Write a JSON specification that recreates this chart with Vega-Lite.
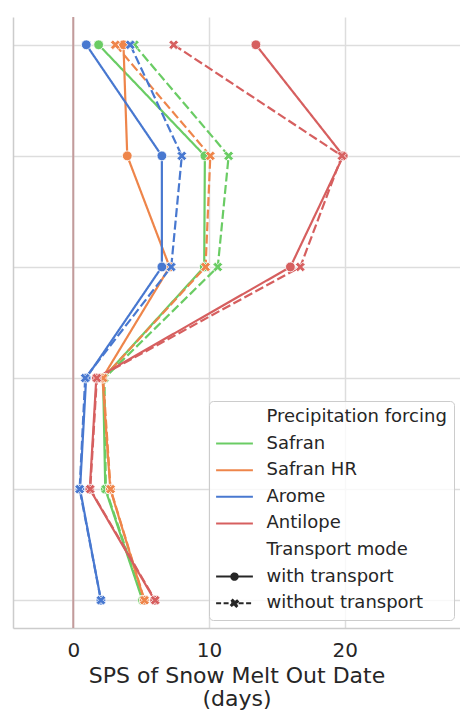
{
  "$schema": "https://vega.github.io/schema/vega-lite/v6.json",
  "width": 447,
  "height": 611,
  "autosize": {"type": "none"},
  "padding": {"left": 13, "top": 17, "right": 0, "bottom": 84},
  "background": "white",
  "title": {"text": "(c)", "fontSize": 22, "font": "DejaVu Sans", "fontWeight": "normal", "color": "#262626", "baseline": "alphabetic", "offset": 6, "dx": 6.5},
  "config": {"font": "DejaVu Sans", "view": {"stroke": null}},
  "data": {"values": [
    {"level": 1, "forcing": "Safran", "transport": "with transport", "sps": 1.87},
    {"level": 2, "forcing": "Safran", "transport": "with transport", "sps": 9.7},
    {"level": 3, "forcing": "Safran", "transport": "with transport", "sps": 9.65},
    {"level": 4, "forcing": "Safran", "transport": "with transport", "sps": 2.2},
    {"level": 5, "forcing": "Safran", "transport": "with transport", "sps": 2.36},
    {"level": 6, "forcing": "Safran", "transport": "with transport", "sps": 5.1},
    {"level": 1, "forcing": "Safran", "transport": "without transport", "sps": 4.5},
    {"level": 2, "forcing": "Safran", "transport": "without transport", "sps": 11.45},
    {"level": 3, "forcing": "Safran", "transport": "without transport", "sps": 10.65},
    {"level": 4, "forcing": "Safran", "transport": "without transport", "sps": 2.3},
    {"level": 5, "forcing": "Safran", "transport": "without transport", "sps": 2.4},
    {"level": 6, "forcing": "Safran", "transport": "without transport", "sps": 5.15},
    {"level": 1, "forcing": "Safran HR", "transport": "with transport", "sps": 3.7},
    {"level": 2, "forcing": "Safran HR", "transport": "with transport", "sps": 3.98},
    {"level": 3, "forcing": "Safran HR", "transport": "with transport", "sps": 7.1},
    {"level": 4, "forcing": "Safran HR", "transport": "with transport", "sps": 2.15},
    {"level": 5, "forcing": "Safran HR", "transport": "with transport", "sps": 2.73},
    {"level": 6, "forcing": "Safran HR", "transport": "with transport", "sps": 5.23},
    {"level": 1, "forcing": "Safran HR", "transport": "without transport", "sps": 3.1},
    {"level": 2, "forcing": "Safran HR", "transport": "without transport", "sps": 10.1},
    {"level": 3, "forcing": "Safran HR", "transport": "without transport", "sps": 9.75},
    {"level": 4, "forcing": "Safran HR", "transport": "without transport", "sps": 2.2},
    {"level": 5, "forcing": "Safran HR", "transport": "without transport", "sps": 2.75},
    {"level": 6, "forcing": "Safran HR", "transport": "without transport", "sps": 5.25},
    {"level": 1, "forcing": "Arome", "transport": "with transport", "sps": 0.96},
    {"level": 2, "forcing": "Arome", "transport": "with transport", "sps": 6.53},
    {"level": 3, "forcing": "Arome", "transport": "with transport", "sps": 6.53},
    {"level": 4, "forcing": "Arome", "transport": "with transport", "sps": 0.95},
    {"level": 5, "forcing": "Arome", "transport": "with transport", "sps": 0.5},
    {"level": 6, "forcing": "Arome", "transport": "with transport", "sps": 2.04},
    {"level": 1, "forcing": "Arome", "transport": "without transport", "sps": 4.2},
    {"level": 2, "forcing": "Arome", "transport": "without transport", "sps": 8.0},
    {"level": 3, "forcing": "Arome", "transport": "without transport", "sps": 7.22},
    {"level": 4, "forcing": "Arome", "transport": "without transport", "sps": 0.88},
    {"level": 5, "forcing": "Arome", "transport": "without transport", "sps": 0.47},
    {"level": 6, "forcing": "Arome", "transport": "without transport", "sps": 2.04},
    {"level": 1, "forcing": "Antilope", "transport": "with transport", "sps": 13.46},
    {"level": 2, "forcing": "Antilope", "transport": "with transport", "sps": 19.9},
    {"level": 3, "forcing": "Antilope", "transport": "with transport", "sps": 16.0},
    {"level": 4, "forcing": "Antilope", "transport": "with transport", "sps": 1.7},
    {"level": 5, "forcing": "Antilope", "transport": "with transport", "sps": 1.22},
    {"level": 6, "forcing": "Antilope", "transport": "with transport", "sps": 6.0},
    {"level": 1, "forcing": "Antilope", "transport": "without transport", "sps": 7.4},
    {"level": 2, "forcing": "Antilope", "transport": "without transport", "sps": 19.8},
    {"level": 3, "forcing": "Antilope", "transport": "without transport", "sps": 16.73},
    {"level": 4, "forcing": "Antilope", "transport": "without transport", "sps": 1.74},
    {"level": 5, "forcing": "Antilope", "transport": "without transport", "sps": 1.25},
    {"level": 6, "forcing": "Antilope", "transport": "without transport", "sps": 6.04}
  ]},
  "layer": [
    {
      "data": {"values": [{}]},
      "mark": {"type": "rule", "color": "#c39b9b", "strokeWidth": 2},
      "encoding": {"x": {"datum": 0, "type": "quantitative"}}
    },
    {
      "mark": {"type": "line", "strokeWidth": 2.2},
      "encoding": {
        "x": {"field": "sps", "type": "quantitative",
          "scale": {"domain": [-4.44, 28.5], "nice": false, "zero": false},
          "axis": {"values": [0, 10, 20], "grid": true, "gridColor": "#dddddd", "gridWidth": 1.5, "ticks": false,
            "domainColor": "#cccccc", "domainWidth": 1.5, "labelFontSize": 20, "labelColor": "#262626", "labelPadding": 12,
            "labelFlush": false,
            "title": ["SPS of Snow Melt Out Date", "(days)"], "titleFontSize": 22, "titleFontWeight": "normal",
            "titleColor": "#262626", "titlePadding": 5, "titleLineHeight": 23}},
        "y": {"field": "level", "type": "ordinal",
          "scale": {"type": "point", "padding": 0.25},
          "axis": {"labels": false, "ticks": false, "title": null, "grid": true, "gridColor": "#dddddd", "gridWidth": 1.5,
            "domainColor": "#cccccc", "domainWidth": 1.5}},
        "order": {"field": "level", "type": "quantitative"},
        "color": {"field": "forcing", "type": "nominal",
          "scale": {
            "domain": ["Precipitation forcing", "Safran", "Safran HR", "Arome", "Antilope", "Transport mode", "with transport", "without transport"],
            "range": ["transparent", "#6acc64", "#ee854a", "#4878d0", "#d65f5f", "transparent", "#262626", "#262626"]
          },
          "legend": {
            "title": null, "orient": "none", "legendX": 196, "legendY": 384, "padding": 7,
            "fillColor": "rgba(255,255,255,0.8)", "strokeColor": "#cccccc", "cornerRadius": 4,
            "labelFontSize": 18, "labelColor": "#262626", "labelFont": "DejaVu Sans", "labelLimit": 400,
            "symbolSize": 64, "symbolOffset": 9.5, "labelOffset": 23, "rowPadding": 8.6, "symbolStrokeWidth": 2,
            "encode": {"symbols": {"update": {
              "shape": {"signal": "datum.value === 'with transport' ? 'M-4.6,0H4.6M-0.8,0A0.8,0.8 0 1,1 0.8,0A0.8,0.8 0 1,1 -0.8,0Z' : datum.value === 'without transport' ? 'M-4.6,0H4.6M-0.85,-0.45L-0.45,-0.85L0,-0.4L0.45,-0.85L0.85,-0.45L0.4,0L0.85,0.45L0.45,0.85L0,0.4L-0.45,0.85L-0.85,0.45L-0.4,0Z' : 'M-4.6,0H4.6'"},
              "fill": {"signal": "datum.value === 'with transport' || datum.value === 'without transport' ? '#262626' : 'transparent'"},
              "strokeDash": {"signal": "datum.value === 'without transport' ? [5,2.5] : [1,0]"},
              "stroke": {"scale": "color", "field": "value"},
              "strokeWidth": {"value": 2},
              "opacity": {"value": 1}
            }}}
          }},
        "strokeDash": {"field": "transport", "type": "nominal",
          "scale": {"domain": ["with transport", "without transport"], "range": [[1, 0], [9, 3.5]]},
          "legend": null}
      }
    },
    {
      "mark": {"type": "point", "filled": true, "opacity": 1, "stroke": "white", "strokeWidth": 0.8, "size": 95},
      "encoding": {
        "x": {"field": "sps", "type": "quantitative"},
        "y": {"field": "level", "type": "ordinal"},
        "color": {"field": "forcing", "type": "nominal"},
        "shape": {"field": "transport", "type": "nominal",
          "scale": {"domain": ["with transport", "without transport"],
            "range": ["circle", "M-1,-0.5L-0.5,-1L0,-0.5L0.5,-1L1,-0.5L0.5,0L1,0.5L0.5,1L0,0.5L-0.5,1L-1,0.5L-0.5,0Z"]},
          "legend": null}
      }
    }
  ]
}
